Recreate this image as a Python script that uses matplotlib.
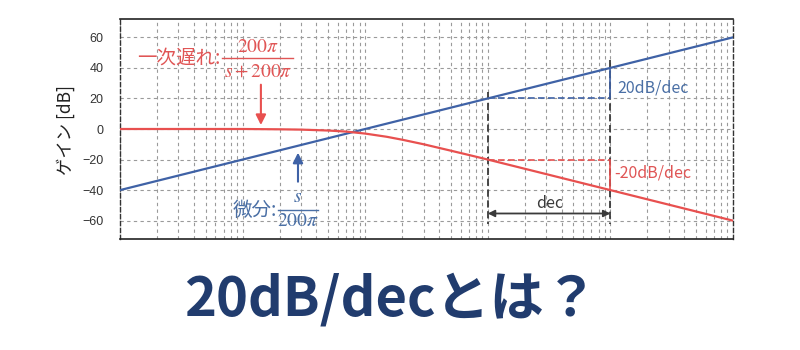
import matplotlib
matplotlib.use("Agg")
import matplotlib.pyplot as plt
from matplotlib.lines import Line2D
from matplotlib.ticker import LogLocator, NullFormatter, FixedLocator

plt.rcParams['font.family'] = ['Noto Sans CJK JP', 'DejaVu Sans']
plt.rcParams['mathtext.fontset'] = 'stix'

# ---- data ----
freq_hz = [1, 10, 100, 1000, 10000, 100000]
diff_db = [-40, -20, 0, 20, 40, 60]

lag_freq_hz = [1, 10, 20, 30, 50, 70, 100, 150, 200, 300, 500, 700, 1000, 10000, 100000]
lag_db = [0, 0, -0.2, -0.4, -1.0, -1.7, -3.0, -5.1, -7.0, -10.0, -14.2, -17.0, -20.0, -40.0, -60.0]

y_ticks = [-60, -40, -20, 0, 20, 40, 60]
dec_start, dec_end = 1000, 10000
slope_up_db = [20, 40]
slope_dn_db = [-20, -40]

RED = '#E8504F'
BLUE = '#3F62A6'
RED_T = '#E05555'
BLUE_T = '#4A6FA5'
DARK = '#3A3A3A'

fig = plt.figure(figsize=(8, 3.5), dpi=100)
ax = fig.add_axes([120/800, 1-239/350, (733-120)/800, (239-19)/350])

ax.set_xscale('log')
ax.set_xlim(1, 100000)
ax.set_ylim(-72, 72)
ax.yaxis.set_major_locator(FixedLocator(y_ticks))
ax.xaxis.set_major_locator(LogLocator(base=10, numticks=10))
ax.xaxis.set_minor_locator(LogLocator(base=10, subs=range(2, 10), numticks=20))
ax.xaxis.set_major_formatter(NullFormatter())
ax.xaxis.set_minor_formatter(NullFormatter())
ax.tick_params(axis='both', which='both', length=0)
ax.tick_params(axis='y', labelsize=9, labelcolor='#333333', pad=12)
for lab in ax.get_yticklabels():
    lab.set_family(['Liberation Sans', 'DejaVu Sans'])

grid_kw = dict(color='#9a9a9a', linewidth=0.8, linestyle=(0, (3, 3)))
ax.grid(True, which='major', axis='both', **grid_kw)
ax.grid(True, which='minor', axis='x', **grid_kw)
ax.set_axisbelow(True)

for s in ['top', 'bottom']:
    ax.spines[s].set_color('#222222')
    ax.spines[s].set_linewidth(1.2)
for s in ['left', 'right']:
    ax.spines[s].set_color('#333333')
    ax.spines[s].set_linewidth(1.0)
    ax.spines[s].set_linestyle((0, (3, 2)))

ax.plot(freq_hz, diff_db, color=BLUE, lw=1.6, zorder=3)
ax.plot(lag_freq_hz, lag_db, color=RED, lw=1.6, zorder=3)

# slope helper lines
ax.plot([dec_start, dec_end], [slope_up_db[0], slope_up_db[0]], color=BLUE, lw=1.2, ls=(0, (4, 2)), zorder=2)
ax.plot([dec_start, dec_end], [slope_dn_db[0], slope_dn_db[0]], color=RED, lw=1.2, ls=(0, (4, 2)), zorder=2)
ax.plot([dec_start, dec_start], [24, -62.5], color=DARK, lw=1.3, ls=(0, (4, 2)), zorder=2)
ax.plot([dec_end, dec_end], [45, -62.5], color=DARK, lw=1.3, ls=(0, (4, 2)), zorder=2)
ax.plot([dec_end, dec_end], [slope_up_db[0], slope_up_db[1]], color=BLUE, lw=1.2, zorder=2)
ax.plot([dec_end, dec_end], [slope_dn_db[0], slope_dn_db[1]], color=RED, lw=1.2, zorder=2)
ax.annotate('', xy=(dec_start, -55.3), xytext=(dec_end, -55.3),
            arrowprops=dict(arrowstyle='<|-|>', color=DARK, lw=1.3, mutation_scale=10,
                            shrinkA=0, shrinkB=0))

# arrows pointing at curves
ax.annotate('', xy=(14.1, 2.6), xytext=(14.1, 29),
            arrowprops=dict(arrowstyle='-|>', color=RED, lw=1.5, mutation_scale=15,
                            shrinkA=0, shrinkB=0))
ax.annotate('', xy=(28.3, -15.5), xytext=(28.3, -34.5),
            arrowprops=dict(arrowstyle='-|>', color=BLUE, lw=1.5, mutation_scale=15,
                            shrinkA=0, shrinkB=0))


def P(x, y):
    return (x/800, 1-y/350)


def frac(cx, ynum, yline, yden, x0, x1, num, den, color):
    fig.text(*P(cx, ynum), num, ha='center', va='center', fontsize=14, color=color)
    fig.text(*P(cx, yden), den, ha='center', va='center', fontsize=14, color=color)
    fig.add_artist(Line2D([x0/800, x1/800], [1-yline/350, 1-yline/350], color=color, lw=1.0))


fig.text(*P(220, 58), '一次遅れ:', ha='right', va='center', fontsize=14, color=RED_T)
frac(258, 46, 57.5, 71, 222, 293, r'$200\pi$', r'$s+200\pi$', RED_T)

fig.text(*P(277, 210), '微分:', ha='right', va='center', fontsize=14, color=BLUE_T)
frac(298, 196, 209.5, 221, 278, 318, r'$s$', r'$200\pi$', BLUE_T)

fig.text(*P(617, 88), '20dB/dec', ha='left', va='center', fontsize=11.5, color=BLUE_T)
fig.text(*P(614, 173), '-20dB/dec', ha='left', va='center', fontsize=11.5, color=RED_T)
fig.text(*P(550, 203), 'dec', ha='center', va='center', fontsize=11.5, color=DARK)

fig.text(*P(66, 130), 'ゲイン [dB]', rotation=90, ha='center', va='center', fontsize=12.5, color='#222222')

fig.text(*P(391, 315), '20dB/decとは？', ha='center', va='baseline', fontsize=39,
         fontweight='bold', color='#213C6E')

fig.savefig('out.png', dpi=100, facecolor='white')
